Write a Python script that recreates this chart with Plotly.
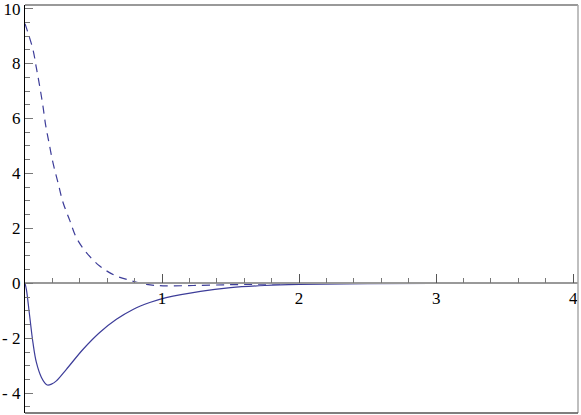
"""Two curves on a framed Mathematica-style plot."""

import plotly.graph_objects as go

# Solid curve
x_solido = [0, 0.01, 0.034, 0.058, 0.083, 0.12, 0.144, 0.163, 0.193, 0.229, 0.302, 0.424,
            0.545, 0.667, 0.788, 0.91, 1.03, 1.28, 1.5, 1.75, 2.0, 2.5, 3.0, 3.5, 4.04]
y_solido = [0, -0.22, -1.19, -2.16, -2.88, -3.43, -3.62, -3.70, -3.67, -3.55, -3.13, -2.40,
            -1.79, -1.31, -0.95, -0.70, -0.52, -0.29, -0.16, -0.08, -0.04, -0.01, 0, 0, 0]

# Dashed curve
x_discontinua = [0, 0.058, 0.083, 0.107, 0.131, 0.151, 0.175, 0.204, 0.241, 0.277,
                 0.326, 0.375, 0.448, 0.545, 0.655, 0.764, 0.886, 1.007, 1.226, 1.5,
                 1.75, 2.0, 2.5, 3.0, 4.04]
y_discontinua = [9.45, 8.51, 7.84, 7.18, 6.45, 5.75, 5.12, 4.39, 3.66, 2.95,
                 2.30, 1.66, 1.12, 0.63, 0.29, 0.11, -0.04, -0.09, -0.08, -0.05,
                 -0.03, -0.01, 0, 0, 0]

# Tick labels
x_ticks = [1, 2, 3, 4]
x_etiquetas = ['1', '2', '3', '4']
y_ticks = [-4, -2, 0, 2, 4, 6, 8, 10]
y_etiquetas = ['- 4', '- 2', '0', '2', '4', '6', '8', '10']

COLOR = '#3d3d99'
Y_MIN, Y_MAX = -4.72, 10.13

fig = go.Figure()

fig.add_trace(go.Scatter(
    x=x_solido, y=y_solido, mode='lines',
    line=dict(color=COLOR, width=1.2, shape='spline', smoothing=1.0),
    showlegend=False
))

fig.add_trace(go.Scatter(
    x=x_discontinua, y=y_discontinua, mode='lines',
    line=dict(color=COLOR, width=1.2, dash='8px,6px', shape='spline', smoothing=1.0),
    showlegend=False
))

fig.update_layout(
    width=581,
    height=415,
    margin=dict(l=25, r=3, t=5, b=2, autoexpand=False),
    plot_bgcolor='white',
    paper_bgcolor='white',
    font=dict(family='Liberation Serif, Times New Roman, serif', size=17, color='black'),
    shapes=[
        dict(type='line', xref='paper', yref='paper', x0=0, x1=1, y0=1, y1=1,
             line=dict(color='#777777', width=1.5)),
        dict(type='line', xref='paper', yref='paper', x0=1, x1=1, y0=0, y1=1,
             line=dict(color='#aaaaaa', width=1.5)),
        dict(type='line', xref='paper', yref='paper', x0=0, x1=1, y0=0, y1=0,
             line=dict(color='#555555', width=1.5)),
    ],
)

fig.update_xaxes(
    range=[0, 4.035],
    anchor='free',
    position=(0 - Y_MIN) / (Y_MAX - Y_MIN),
    automargin=False,
    ticklabeloverflow='allow',
    showgrid=False, zeroline=False,
    showline=True, linecolor='#999999', linewidth=1.5,
    ticks='inside', ticklen=9, tickcolor='#555555', tickwidth=1,
    tickvals=x_ticks, ticktext=x_etiquetas,
    minor=dict(ticks='inside', dtick=0.2, tick0=0, ticklen=5, tickcolor='#777777'),
)

fig.update_yaxes(
    range=[Y_MIN, Y_MAX],
    automargin=False,
    ticklabeloverflow='allow',
    showgrid=False, zeroline=False,
    showline=True, linecolor='black', linewidth=1.2,
    ticks='inside', ticklen=8, tickcolor='#777777', tickwidth=1,
    tickvals=y_ticks, ticktext=y_etiquetas,
    minor=dict(ticks='inside', dtick=0.5, tick0=0, ticklen=5, tickcolor='#777777'),
)

# quitar el margen del body para que el grafico ocupe la ventana completa
fig.write_html("out.html", config={'displayModeBar': False},
               post_script="document.body.style.margin='0';")
